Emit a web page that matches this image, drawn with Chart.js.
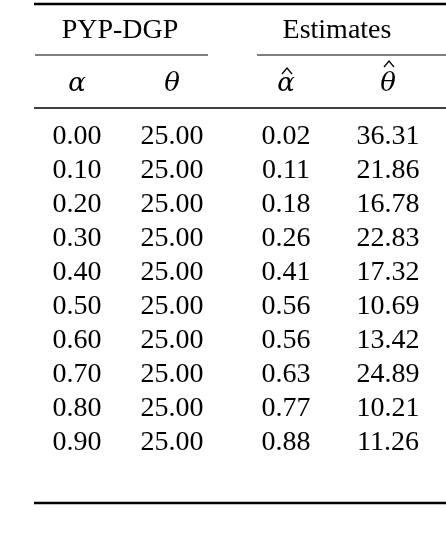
<!DOCTYPE html>
<html><head><meta charset="utf-8">
<script src="https://cdn.jsdelivr.net/npm/chart.js@4/dist/chart.umd.min.js"></script>
<style>html,body{margin:0;padding:0;background:#fff}</style>
</head><body>
<canvas id="c" width="446" height="540"></canvas>
<script>
const groupHeaders = ["PYP-DGP", "Estimates"];
const columnHeaders = ["α", "θ", "α", "θ"];
const columnHats = [false, false, true, true];
const trueAlpha = [0.00,0.10,0.20,0.30,0.40,0.50,0.60,0.70,0.80,0.90];
const trueTheta = [25,25,25,25,25,25,25,25,25,25];
const estAlpha = [0.02,0.11,0.18,0.26,0.41,0.56,0.56,0.63,0.77,0.88];
const estTheta = [36.31,21.86,16.78,22.83,17.32,10.69,13.42,24.89,10.21,11.26];

const colX = [0.77, 1.72, 2.86, 3.88];
const groupX = [1.20, 3.37];
const rowY = i => 1.37 + 0.34 * i;

const cells = [];
const cols = [trueAlpha, trueTheta, estAlpha, estTheta];
cols.forEach((arr, c) => arr.forEach((v, r) => cells.push({x: colX[c], y: rowY(r), t: v.toFixed(2), italic:false})));
columnHeaders.forEach((h, c) => cells.push({x: colX[c], y: 0.84, t: h, italic:true, hat:columnHats[c]}));
groupHeaders.forEach((h, g) => cells.push({x: groupX[g], y: 0.31, t: h, italic:false}));

const rules = [
  {x0:0.34, x1:4.46, y:0.04, w:2.4},
  {x0:0.35, x1:2.08, y:0.55, w:1},
  {x0:2.57, x1:4.46, y:0.55, w:1},
  {x0:0.34, x1:4.46, y:1.08, w:1.6},
  {x0:0.34, x1:4.46, y:5.03, w:2.4}
];

const tablePlugin = {
  id:'table',
  afterDatasetsDraw(chart){
    const ctx = chart.ctx, xs = chart.scales.x, ys = chart.scales.y;
    ctx.save();
    ctx.fillStyle = '#000'; ctx.strokeStyle='#000';
    rules.forEach(r => {
      ctx.lineWidth = r.w;
      ctx.beginPath();
      ctx.moveTo(xs.getPixelForValue(r.x0), ys.getPixelForValue(r.y));
      ctx.lineTo(xs.getPixelForValue(r.x1), ys.getPixelForValue(r.y));
      ctx.stroke();
    });
    ctx.textAlign='center'; ctx.textBaseline='middle';
    const meta = chart.getDatasetMeta(0);
    meta.data.forEach((pt, i) => {
      const c = cells[i];
      ctx.font = c.italic ? 'italic 26px "DejaVu Serif", serif' : '28px "Liberation Serif", serif';
      ctx.fillText(c.t, pt.x, pt.y);
      if (c.hat) {
        ctx.lineWidth = 1.3;
        const top = c.t === 'θ' ? pt.y - 17 : pt.y - 10;
        ctx.beginPath();
        ctx.moveTo(pt.x - 4, top);
        ctx.lineTo(pt.x + 1, top - 6);
        ctx.lineTo(pt.x + 6, top);
        ctx.stroke();
      }
    });
    ctx.restore();
  }
};

new Chart(document.getElementById('c'), {
  type:'scatter',
  data:{datasets:[{data:cells.map(c=>({x:c.x,y:c.y})), pointRadius:0, pointHoverRadius:0}]},
  options:{
    responsive:false, animation:false, devicePixelRatio:1,
    layout:{padding:0},
    plugins:{legend:{display:false}, tooltip:{enabled:false}},
    scales:{
      x:{type:'linear', min:0, max:4.46, display:false},
      y:{type:'linear', min:0, max:5.40, reverse:true, display:false}
    }
  },
  plugins:[tablePlugin]
});
</script>
</body></html>
